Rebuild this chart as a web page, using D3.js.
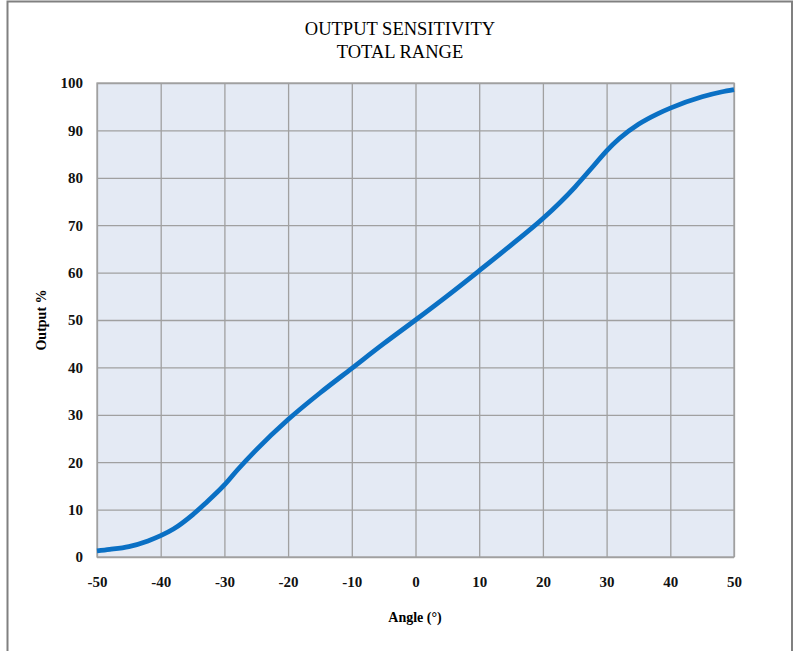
<!DOCTYPE html>
<html><head><meta charset="utf-8">
<script src="https://cdn.jsdelivr.net/npm/d3@7/dist/d3.min.js"></script>
<style>body{margin:0;background:#fff}svg{display:block}</style>
</head><body>
<script>
const angles = [-50,-48,-45,-42,-40,-38,-35,-33,-30,-28,-25,-20,-15,-10,-5,0,5,10,15,20,25,28,30,32,35,38,40,45,48,50];
const outputs = [1.3,1.6,2.2,3.4,4.5,5.9,8.9,11.3,15.2,18.3,22.6,29.0,34.6,39.8,45,50,55.1,60.4,65.8,71.4,78,82.6,85.7,88.3,91.3,93.5,94.7,97.1,98.1,98.6];
const xTicks = [-50,-40,-30,-20,-10,0,10,20,30,40,50];
const yTicks = [0,10,20,30,40,50,60,70,80,90,100];
const titleLines = ["OUTPUT SENSITIVITY","TOTAL RANGE"];
const xLabel = "Angle (°)";
const yLabel = "Output %";

const W = 796, H = 651;
const svg = d3.select("body").append("svg").attr("width", W).attr("height", H);
svg.append("rect").attr("x",7.5).attr("y",1.5).attr("width",784.5).attr("height",H+10)
  .attr("fill","#fff").attr("stroke","#808080").attr("stroke-width",2);

const m = {l:97, r:734, t:83, b:557};
const x = d3.scaleLinear().domain([-50,50]).range([m.l, m.r]);
const y = d3.scaleLinear().domain([0,100]).range([m.b, m.t]);

svg.append("rect").attr("x",m.l).attr("y",m.t).attr("width",m.r-m.l).attr("height",m.b-m.t)
  .attr("fill","#e4eaf4");

const font = "'Liberation Serif','Times New Roman',serif";
const fmt = d => String(d);
const gx = svg.append("g").attr("transform",`translate(0,${m.b})`)
  .call(d3.axisBottom(x).tickValues(xTicks).tickSize(-(m.b-m.t)).tickPadding(19).tickFormat(fmt));
const gy = svg.append("g").attr("transform",`translate(${m.l},0)`)
  .call(d3.axisLeft(y).tickValues(yTicks).tickSize(-(m.r-m.l)).tickPadding(14).tickFormat(fmt));
[gx,gy].forEach(g=>{
  g.attr("font-family",font).attr("font-size",15);
  g.select(".domain").remove();
  g.selectAll(".tick line").attr("stroke","#a0a0a0").attr("stroke-width",1.3);
  g.selectAll(".tick text").style("font-family",font).style("font-size","15px").style("font-weight","bold").attr("fill","#111");
});
gx.selectAll(".tick text").attr("dy","0.71em");
svg.append("rect").attr("x",m.l).attr("y",m.t).attr("width",m.r-m.l).attr("height",m.b-m.t)
  .attr("fill","none").attr("stroke","#a0a0a0").attr("stroke-width",1.3);

const line = d3.line().x((d,i)=>x(angles[i])).y(d=>y(d)).curve(d3.curveMonotoneX);
svg.append("path").datum(outputs).attr("d",line).attr("fill","none")
  .attr("stroke","#0a70c4").attr("stroke-width",4.8).attr("stroke-linecap","butt");

svg.append("g").selectAll("text").data(titleLines).join("text")
  .attr("x",400).attr("y",(d,i)=>35+i*23).attr("text-anchor","middle")
  .style("font-family",font).style("font-size","18.5px").attr("fill","#000").text(d=>d);

svg.append("text").attr("x",415).attr("y",622).attr("text-anchor","middle")
  .style("font-family",font).style("font-size","14px").style("font-weight","bold").text(xLabel);
svg.append("text").attr("transform","translate(46,320) rotate(-90)").attr("text-anchor","middle")
  .style("font-family",font).style("font-size","14px").style("font-weight","bold").text(yLabel);
</script>
</body></html>
